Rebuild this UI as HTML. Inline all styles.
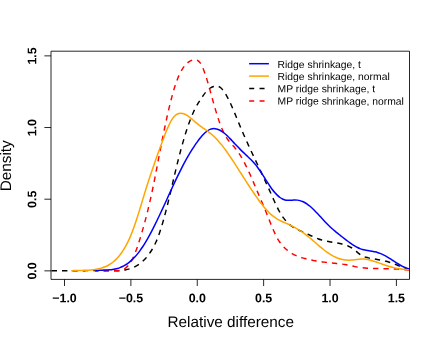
<!DOCTYPE html>
<html><head><meta charset="utf-8"><title>Density plot</title>
<style>html,body{margin:0;padding:0;background:#fff;}body{width:436px;height:343px;position:relative;overflow:hidden;font-family:"Liberation Sans",sans-serif;}</style>
</head><body>
<svg width="436" height="343" viewBox="0 0 436 343" text-rendering="geometricPrecision" style="will-change:transform;position:absolute;left:0;top:0;font-family:'Liberation Sans',sans-serif">
<rect x="0" y="0" width="436" height="343" fill="#fff"/>
<clipPath id="c"><rect x="51.00" y="51.20" width="358.50" height="228.20"/></clipPath>
<g clip-path="url(#c)" fill="none" stroke-linejoin="round">
<path d="M51.00 270.66C51.42 270.66 52.67 270.68 53.50 270.69C54.33 270.70 55.17 270.71 56.00 270.71C56.83 270.72 57.67 270.73 58.50 270.73C59.33 270.74 60.17 270.74 61.00 270.74C61.83 270.74 62.67 270.74 63.50 270.74C64.33 270.74 65.17 270.74 66.00 270.74C66.83 270.74 67.67 270.74 68.50 270.74C69.33 270.73 70.17 270.73 71.00 270.73C71.83 270.72 72.67 270.72 73.50 270.72C74.33 270.71 75.17 270.71 76.00 270.70C76.83 270.70 77.67 270.69 78.50 270.69C79.33 270.68 80.17 270.68 81.00 270.68C81.83 270.67 82.67 270.67 83.50 270.66C84.33 270.66 85.17 270.66 86.00 270.65C86.83 270.65 87.67 270.65 88.50 270.64C89.33 270.64 90.17 270.64 91.00 270.64C91.83 270.64 92.67 270.64 93.50 270.64C94.33 270.64 95.17 270.65 96.00 270.65C96.83 270.65 97.67 270.66 98.50 270.66C99.33 270.67 100.17 270.67 101.00 270.68C101.83 270.69 102.67 270.70 103.50 270.71C104.33 270.72 105.17 270.73 106.00 270.75C106.83 270.76 107.67 270.79 108.50 270.79C109.33 270.80 110.17 270.80 111.00 270.80C111.83 270.80 112.67 270.80 113.50 270.80C114.33 270.80 115.17 270.82 116.00 270.80C116.83 270.78 117.67 270.75 118.50 270.71C119.33 270.66 120.17 270.59 121.00 270.51C121.83 270.42 122.67 270.32 123.50 270.19C124.33 270.07 125.17 269.92 126.00 269.74C126.83 269.57 127.67 269.37 128.50 269.14C129.33 268.90 130.17 268.65 131.00 268.35C131.83 268.05 132.67 267.73 133.50 267.36C134.33 266.99 135.17 266.59 136.00 266.13C136.83 265.68 137.67 265.18 138.50 264.62C139.33 264.06 140.17 263.46 141.00 262.78C141.83 262.11 142.67 261.38 143.50 260.57C144.33 259.77 145.17 258.90 146.00 257.94C146.83 256.99 147.67 255.97 148.50 254.85C149.33 253.74 150.17 252.56 151.00 251.25C151.83 249.95 152.67 248.57 153.50 247.02C154.33 245.47 155.17 243.82 156.00 241.95C156.83 240.08 157.67 238.06 158.50 235.81C159.33 233.56 160.17 231.08 161.00 228.44C161.83 225.80 162.67 222.94 163.50 219.98C164.33 217.02 165.17 213.88 166.00 210.67C166.83 207.45 167.67 204.10 168.50 200.70C169.33 197.29 170.17 193.77 171.00 190.24C171.83 186.71 172.67 183.05 173.50 179.50C174.33 175.94 175.17 172.36 176.00 168.91C176.83 165.47 177.67 162.09 178.50 158.81C179.33 155.54 180.17 152.35 181.00 149.27C181.83 146.20 182.67 143.21 183.50 140.35C184.33 137.48 185.17 134.72 186.00 132.09C186.83 129.46 187.67 126.95 188.50 124.57C189.33 122.19 190.17 119.93 191.00 117.83C191.83 115.72 192.67 113.74 193.50 111.93C194.33 110.11 195.17 108.46 196.00 106.92C196.83 105.38 197.67 104.03 198.50 102.68C199.33 101.34 200.17 100.10 201.00 98.85C201.83 97.59 202.67 96.32 203.50 95.14C204.33 93.97 205.17 92.79 206.00 91.82C206.83 90.84 207.67 89.98 208.50 89.28C209.33 88.58 210.17 88.09 211.00 87.63C211.83 87.18 212.67 86.83 213.50 86.56C214.33 86.29 215.17 86.06 216.00 86.03C216.83 86.01 217.67 86.08 218.50 86.42C219.33 86.75 220.17 87.30 221.00 88.04C221.83 88.78 222.67 89.75 223.50 90.85C224.33 91.96 225.17 93.26 226.00 94.66C226.83 96.07 227.67 97.65 228.50 99.30C229.33 100.95 230.17 102.73 231.00 104.57C231.83 106.40 232.67 108.34 233.50 110.29C234.33 112.24 235.17 114.27 236.00 116.28C236.83 118.30 237.67 120.35 238.50 122.37C239.33 124.38 240.17 126.39 241.00 128.36C241.83 130.33 242.67 132.26 243.50 134.17C244.33 136.08 245.17 137.96 246.00 139.82C246.83 141.68 247.67 143.51 248.50 145.33C249.33 147.15 250.17 148.95 251.00 150.74C251.83 152.53 252.67 154.30 253.50 156.07C254.33 157.84 255.17 159.59 256.00 161.35C256.83 163.11 257.67 164.86 258.50 166.62C259.33 168.38 260.17 170.13 261.00 171.90C261.83 173.66 262.67 175.43 263.50 177.22C264.33 179.00 265.17 180.79 266.00 182.60C266.83 184.41 267.67 186.24 268.50 188.09C269.33 189.93 270.17 191.82 271.00 193.69C271.83 195.57 272.67 197.49 273.50 199.34C274.33 201.19 275.17 203.04 276.00 204.79C276.83 206.53 277.67 208.23 278.50 209.79C279.33 211.36 280.17 212.81 281.00 214.16C281.83 215.50 282.67 216.73 283.50 217.87C284.33 219.01 285.17 220.04 286.00 220.99C286.83 221.94 287.67 222.80 288.50 223.59C289.33 224.37 290.17 225.07 291.00 225.71C291.83 226.36 292.67 226.92 293.50 227.44C294.33 227.97 295.17 228.42 296.00 228.86C296.83 229.29 297.67 229.68 298.50 230.06C299.33 230.44 300.17 230.78 301.00 231.14C301.83 231.49 302.67 231.83 303.50 232.19C304.33 232.55 305.17 232.92 306.00 233.31C306.83 233.70 307.67 234.11 308.50 234.52C309.33 234.93 310.17 235.35 311.00 235.76C311.83 236.16 312.67 236.57 313.50 236.95C314.33 237.33 315.17 237.70 316.00 238.03C316.83 238.37 317.67 238.67 318.50 238.96C319.33 239.25 320.17 239.51 321.00 239.76C321.83 240.01 322.67 240.23 323.50 240.45C324.33 240.66 325.17 240.86 326.00 241.04C326.83 241.23 327.67 241.40 328.50 241.56C329.33 241.73 330.17 241.88 331.00 242.03C331.83 242.18 332.67 242.32 333.50 242.46C334.33 242.60 335.17 242.73 336.00 242.87C336.83 243.02 337.67 243.15 338.50 243.31C339.33 243.46 340.17 243.62 341.00 243.81C341.83 243.99 342.67 244.19 343.50 244.43C344.33 244.66 345.17 244.92 346.00 245.21C346.83 245.51 347.67 245.84 348.50 246.22C349.33 246.60 350.17 247.02 351.00 247.50C351.83 247.98 352.67 248.51 353.50 249.10C354.33 249.70 355.17 250.38 356.00 251.07C356.83 251.76 357.67 252.56 358.50 253.24C359.33 253.92 360.17 254.62 361.00 255.16C361.83 255.70 362.67 256.10 363.50 256.46C364.33 256.81 365.17 257.05 366.00 257.29C366.83 257.53 367.67 257.73 368.50 257.91C369.33 258.10 370.17 258.26 371.00 258.41C371.83 258.57 372.67 258.70 373.50 258.84C374.33 258.98 375.17 259.11 376.00 259.26C376.83 259.40 377.67 259.55 378.50 259.70C379.33 259.86 380.17 260.01 381.00 260.18C381.83 260.35 382.67 260.53 383.50 260.72C384.33 260.91 385.17 261.11 386.00 261.32C386.83 261.53 387.67 261.75 388.50 261.99C389.33 262.23 390.17 262.48 391.00 262.75C391.83 263.02 392.67 263.31 393.50 263.61C394.33 263.92 395.17 264.25 396.00 264.58C396.83 264.92 397.67 265.29 398.50 265.64C399.33 265.99 400.17 266.35 401.00 266.69C401.83 267.02 402.67 267.36 403.50 267.65C404.33 267.94 405.17 268.22 406.00 268.44C406.83 268.66 407.92 268.86 408.50 268.97C409.08 269.08 409.33 269.07 409.50 269.09" stroke="#000" stroke-width="1.45" stroke-dasharray="5.4 4.99" stroke-linecap="butt" stroke-dashoffset="-0.6"/>
<path d="M100.00 270.70C100.42 270.72 101.67 270.79 102.50 270.79C103.33 270.78 104.17 270.73 105.00 270.69C105.83 270.65 106.67 270.57 107.50 270.52C108.33 270.47 109.17 270.41 110.00 270.38C110.83 270.36 111.67 270.36 112.50 270.38C113.33 270.41 114.17 270.49 115.00 270.54C115.83 270.58 116.67 270.65 117.50 270.65C118.33 270.64 119.17 270.63 120.00 270.49C120.83 270.36 121.67 270.18 122.50 269.85C123.33 269.52 124.17 269.10 125.00 268.51C125.83 267.93 126.67 267.22 127.50 266.33C128.33 265.44 129.17 264.40 130.00 263.16C130.83 261.91 131.67 260.50 132.50 258.86C133.33 257.22 134.17 255.36 135.00 253.31C135.83 251.26 136.67 248.97 137.50 246.55C138.33 244.14 139.17 241.52 140.00 238.82C140.83 236.12 141.67 233.27 142.50 230.35C143.33 227.44 144.17 224.44 145.00 221.32C145.83 218.21 146.67 215.00 147.50 211.65C148.33 208.29 149.17 204.82 150.00 201.18C150.83 197.53 151.67 193.73 152.50 189.76C153.33 185.79 154.17 181.59 155.00 177.36C155.83 173.13 156.67 168.71 157.50 164.36C158.33 160.01 159.17 155.57 160.00 151.26C160.83 146.95 161.67 142.65 162.50 138.49C163.33 134.32 164.17 130.22 165.00 126.27C165.83 122.31 166.67 118.45 167.50 114.76C168.33 111.06 169.17 107.49 170.00 104.11C170.83 100.74 171.67 97.51 172.50 94.51C173.33 91.50 174.17 88.67 175.00 86.09C175.83 83.51 176.67 81.15 177.50 79.02C178.33 76.89 179.17 75.01 180.00 73.31C180.83 71.60 181.67 70.13 182.50 68.80C183.33 67.48 184.17 66.36 185.00 65.36C185.83 64.37 186.67 63.55 187.50 62.84C188.33 62.13 189.17 61.56 190.00 61.09C190.83 60.63 191.67 60.29 192.50 60.05C193.33 59.81 194.17 59.63 195.00 59.67C195.83 59.70 196.67 59.78 197.50 60.27C198.33 60.75 199.17 61.43 200.00 62.57C200.83 63.71 201.67 65.27 202.50 67.10C203.33 68.93 204.17 71.17 205.00 73.55C205.83 75.93 206.67 78.64 207.50 81.40C208.33 84.16 209.17 87.15 210.00 90.12C210.83 93.09 211.67 96.20 212.50 99.20C213.33 102.20 214.17 105.26 215.00 108.12C215.83 110.98 216.67 113.77 217.50 116.36C218.33 118.95 219.17 121.39 220.00 123.65C220.83 125.90 221.67 128.00 222.50 129.91C223.33 131.82 224.17 133.56 225.00 135.11C225.83 136.65 226.67 137.98 227.50 139.19C228.33 140.41 229.17 141.39 230.00 142.38C230.83 143.37 231.67 144.21 232.50 145.14C233.33 146.07 234.17 146.94 235.00 147.94C235.83 148.95 236.67 150.03 237.50 151.19C238.33 152.36 239.17 153.61 240.00 154.93C240.83 156.26 241.67 157.67 242.50 159.15C243.33 160.62 244.17 162.18 245.00 163.80C245.83 165.42 246.67 167.11 247.50 168.86C248.33 170.61 249.17 172.44 250.00 174.30C250.83 176.17 251.67 178.10 252.50 180.04C253.33 181.98 254.17 183.97 255.00 185.94C255.83 187.91 256.67 189.90 257.50 191.86C258.33 193.82 259.17 195.75 260.00 197.70C260.83 199.64 261.67 201.57 262.50 203.53C263.33 205.49 264.17 207.45 265.00 209.47C265.83 211.48 266.67 213.55 267.50 215.62C268.33 217.69 269.17 219.82 270.00 221.88C270.83 223.95 271.67 226.03 272.50 227.99C273.33 229.95 274.17 231.89 275.00 233.65C275.83 235.41 276.67 237.08 277.50 238.55C278.33 240.03 279.17 241.33 280.00 242.51C280.83 243.70 281.67 244.71 282.50 245.66C283.33 246.61 284.17 247.43 285.00 248.22C285.83 249.01 286.67 249.72 287.50 250.39C288.33 251.05 289.17 251.66 290.00 252.22C290.83 252.79 291.67 253.30 292.50 253.77C293.33 254.25 294.17 254.68 295.00 255.08C295.83 255.48 296.67 255.83 297.50 256.17C298.33 256.50 299.17 256.80 300.00 257.09C300.83 257.37 301.67 257.63 302.50 257.87C303.33 258.12 304.17 258.34 305.00 258.56C305.83 258.78 306.67 258.99 307.50 259.19C308.33 259.39 309.17 259.58 310.00 259.76C310.83 259.94 311.67 260.11 312.50 260.28C313.33 260.45 314.17 260.60 315.00 260.76C315.83 260.91 316.67 261.05 317.50 261.19C318.33 261.32 319.17 261.45 320.00 261.58C320.83 261.70 321.67 261.82 322.50 261.93C323.33 262.05 324.17 262.15 325.00 262.26C325.83 262.36 326.67 262.46 327.50 262.55C328.33 262.64 329.17 262.73 330.00 262.82C330.83 262.90 331.67 262.98 332.50 263.06C333.33 263.14 334.17 263.22 335.00 263.30C335.83 263.38 336.67 263.46 337.50 263.55C338.33 263.64 339.17 263.72 340.00 263.82C340.83 263.92 341.67 264.02 342.50 264.14C343.33 264.25 344.17 264.37 345.00 264.51C345.83 264.64 346.67 264.79 347.50 264.95C348.33 265.11 349.17 265.29 350.00 265.47C350.83 265.66 351.67 265.86 352.50 266.05C353.33 266.24 354.17 266.43 355.00 266.61C355.83 266.79 356.67 266.96 357.50 267.11C358.33 267.26 359.17 267.40 360.00 267.51C360.83 267.63 361.67 267.73 362.50 267.81C363.33 267.90 364.17 267.97 365.00 268.03C365.83 268.10 366.67 268.15 367.50 268.20C368.33 268.24 369.17 268.28 370.00 268.31C370.83 268.35 371.67 268.38 372.50 268.41C373.33 268.44 374.17 268.46 375.00 268.48C375.83 268.51 376.67 268.53 377.50 268.55C378.33 268.57 379.17 268.58 380.00 268.60C380.83 268.62 381.67 268.63 382.50 268.65C383.33 268.66 384.17 268.68 385.00 268.70C385.83 268.72 386.67 268.73 387.50 268.75C388.33 268.77 389.17 268.79 390.00 268.82C390.83 268.84 391.67 268.87 392.50 268.90C393.33 268.93 394.17 268.96 395.00 269.00C395.83 269.03 396.67 269.08 397.50 269.12C398.33 269.17 399.17 269.22 400.00 269.27C400.83 269.33 401.67 269.39 402.50 269.46C403.33 269.53 404.17 269.60 405.00 269.69C405.83 269.77 406.75 269.87 407.50 269.95C408.25 270.04 409.17 270.16 409.50 270.20" stroke="#ff0000" stroke-width="1.45" stroke-dasharray="5.4 4.99" stroke-linecap="butt" stroke-dashoffset="-3.7"/>
<path d="M95.00 270.76C95.42 270.71 96.67 270.55 97.50 270.48C98.33 270.40 99.17 270.34 100.00 270.29C100.83 270.24 101.67 270.20 102.50 270.16C103.33 270.12 104.17 270.09 105.00 270.05C105.83 270.01 106.67 269.97 107.50 269.92C108.33 269.87 109.17 269.81 110.00 269.73C110.83 269.65 111.67 269.56 112.50 269.44C113.33 269.32 114.17 269.19 115.00 269.02C115.83 268.85 116.67 268.65 117.50 268.42C118.33 268.18 119.17 267.92 120.00 267.60C120.83 267.29 121.67 266.94 122.50 266.54C123.33 266.13 124.17 265.69 125.00 265.19C125.83 264.70 126.67 264.15 127.50 263.56C128.33 262.96 129.17 262.32 130.00 261.62C130.83 260.92 131.67 260.18 132.50 259.37C133.33 258.57 134.17 257.71 135.00 256.80C135.83 255.88 136.67 254.91 137.50 253.88C138.33 252.86 139.17 251.77 140.00 250.62C140.83 249.48 141.67 248.27 142.50 247.01C143.33 245.75 144.17 244.43 145.00 243.07C145.83 241.70 146.67 240.29 147.50 238.83C148.33 237.37 149.17 235.86 150.00 234.32C150.83 232.78 151.67 231.19 152.50 229.58C153.33 227.97 154.17 226.31 155.00 224.64C155.83 222.96 156.67 221.25 157.50 219.52C158.33 217.79 159.17 216.03 160.00 214.26C160.83 212.49 161.67 210.70 162.50 208.90C163.33 207.09 164.17 205.27 165.00 203.45C165.83 201.63 166.67 199.79 167.50 197.97C168.33 196.14 169.17 194.30 170.00 192.48C170.83 190.65 171.67 188.83 172.50 187.03C173.33 185.22 174.17 183.43 175.00 181.65C175.83 179.88 176.67 178.13 177.50 176.40C178.33 174.68 179.17 172.97 180.00 171.30C180.83 169.64 181.67 168.00 182.50 166.40C183.33 164.80 184.17 163.23 185.00 161.71C185.83 160.18 186.67 158.68 187.50 157.22C188.33 155.77 189.17 154.34 190.00 152.96C190.83 151.58 191.67 150.24 192.50 148.93C193.33 147.63 194.17 146.36 195.00 145.14C195.83 143.92 196.67 142.74 197.50 141.60C198.33 140.46 199.17 139.35 200.00 138.31C200.83 137.26 201.67 136.26 202.50 135.34C203.33 134.42 204.17 133.55 205.00 132.79C205.83 132.03 206.67 131.34 207.50 130.78C208.33 130.21 209.17 129.75 210.00 129.41C210.83 129.06 211.67 128.84 212.50 128.71C213.33 128.59 214.17 128.58 215.00 128.65C215.83 128.73 216.67 128.91 217.50 129.18C218.33 129.44 219.17 129.81 220.00 130.24C220.83 130.68 221.67 131.21 222.50 131.80C223.33 132.39 224.17 133.07 225.00 133.78C225.83 134.49 226.67 135.28 227.50 136.08C228.33 136.89 229.17 137.75 230.00 138.61C230.83 139.48 231.67 140.38 232.50 141.27C233.33 142.16 234.17 143.07 235.00 143.96C235.83 144.84 236.67 145.72 237.50 146.59C238.33 147.45 239.17 148.30 240.00 149.14C240.83 149.97 241.67 150.79 242.50 151.59C243.33 152.39 244.17 153.17 245.00 153.95C245.83 154.74 246.67 155.50 247.50 156.29C248.33 157.08 249.17 157.87 250.00 158.70C250.83 159.53 251.67 160.36 252.50 161.26C253.33 162.15 254.17 163.08 255.00 164.07C255.83 165.06 256.67 166.10 257.50 167.21C258.33 168.32 259.17 169.51 260.00 170.73C260.83 171.96 261.67 173.25 262.50 174.54C263.33 175.83 264.17 177.17 265.00 178.48C265.83 179.80 266.67 181.14 267.50 182.42C268.33 183.71 269.17 185.00 270.00 186.22C270.83 187.43 271.67 188.62 272.50 189.72C273.33 190.82 274.17 191.86 275.00 192.81C275.83 193.76 276.67 194.64 277.50 195.42C278.33 196.20 279.17 196.90 280.00 197.50C280.83 198.10 281.67 198.61 282.50 199.01C283.33 199.42 284.17 199.70 285.00 199.91C285.83 200.12 286.67 200.21 287.50 200.27C288.33 200.33 289.17 200.31 290.00 200.28C290.83 200.26 291.67 200.18 292.50 200.13C293.33 200.09 294.17 200.01 295.00 200.01C295.83 200.01 296.67 200.02 297.50 200.12C298.33 200.22 299.17 200.38 300.00 200.61C300.83 200.84 301.67 201.14 302.50 201.50C303.33 201.86 304.17 202.28 305.00 202.76C305.83 203.24 306.67 203.77 307.50 204.36C308.33 204.95 309.17 205.60 310.00 206.29C310.83 206.98 311.67 207.73 312.50 208.50C313.33 209.28 314.17 210.10 315.00 210.95C315.83 211.79 316.67 212.67 317.50 213.55C318.33 214.44 319.17 215.35 320.00 216.25C320.83 217.16 321.67 218.08 322.50 218.98C323.33 219.89 324.17 220.80 325.00 221.67C325.83 222.55 326.67 223.42 327.50 224.26C328.33 225.09 329.17 225.90 330.00 226.68C330.83 227.47 331.67 228.22 332.50 228.96C333.33 229.70 334.17 230.42 335.00 231.12C335.83 231.82 336.67 232.51 337.50 233.19C338.33 233.87 339.17 234.53 340.00 235.19C340.83 235.86 341.67 236.51 342.50 237.16C343.33 237.82 344.17 238.47 345.00 239.12C345.83 239.76 346.67 240.40 347.50 241.02C348.33 241.64 349.17 242.26 350.00 242.85C350.83 243.44 351.67 244.01 352.50 244.56C353.33 245.10 354.17 245.62 355.00 246.11C355.83 246.59 356.67 247.05 357.50 247.47C358.33 247.88 359.17 248.27 360.00 248.60C360.83 248.94 361.67 249.22 362.50 249.47C363.33 249.72 364.17 249.92 365.00 250.10C365.83 250.28 366.67 250.43 367.50 250.57C368.33 250.71 369.17 250.83 370.00 250.96C370.83 251.09 371.67 251.21 372.50 251.36C373.33 251.51 374.17 251.65 375.00 251.84C375.83 252.03 376.67 252.25 377.50 252.50C378.33 252.75 379.17 253.04 380.00 253.35C380.83 253.67 381.67 254.02 382.50 254.40C383.33 254.79 384.17 255.20 385.00 255.64C385.83 256.08 386.67 256.55 387.50 257.05C388.33 257.54 389.17 258.07 390.00 258.61C390.83 259.14 391.67 259.70 392.50 260.25C393.33 260.80 394.17 261.37 395.00 261.91C395.83 262.45 396.67 262.98 397.50 263.50C398.33 264.01 399.17 264.51 400.00 264.98C400.83 265.45 401.67 265.90 402.50 266.31C403.33 266.72 404.17 267.11 405.00 267.45C405.83 267.79 406.75 268.12 407.50 268.36C408.25 268.61 409.17 268.81 409.50 268.90" stroke="#0000ff" stroke-width="1.5"/>
<path d="M71.25 270.73C71.67 270.71 72.92 270.63 73.75 270.59C74.58 270.56 75.42 270.53 76.25 270.51C77.08 270.49 77.92 270.47 78.75 270.46C79.58 270.44 80.42 270.43 81.25 270.41C82.08 270.40 82.92 270.38 83.75 270.36C84.58 270.34 85.42 270.32 86.25 270.28C87.08 270.25 87.92 270.21 88.75 270.16C89.58 270.10 90.42 270.04 91.25 269.96C92.08 269.88 92.92 269.80 93.75 269.69C94.58 269.58 95.42 269.45 96.25 269.30C97.08 269.16 97.92 268.99 98.75 268.80C99.58 268.60 100.42 268.39 101.25 268.15C102.08 267.90 102.92 267.64 103.75 267.32C104.58 267.01 105.42 266.68 106.25 266.29C107.08 265.90 107.92 265.47 108.75 264.99C109.58 264.51 110.42 263.98 111.25 263.40C112.08 262.81 112.92 262.17 113.75 261.46C114.58 260.75 115.42 259.99 116.25 259.15C117.08 258.30 117.92 257.40 118.75 256.40C119.58 255.41 120.42 254.35 121.25 253.20C122.08 252.04 122.92 250.82 123.75 249.48C124.58 248.14 125.42 246.71 126.25 245.16C127.08 243.60 127.92 241.95 128.75 240.16C129.58 238.36 130.42 236.45 131.25 234.38C132.08 232.32 132.92 230.11 133.75 227.79C134.58 225.47 135.42 223.01 136.25 220.48C137.08 217.96 137.92 215.30 138.75 212.62C139.58 209.95 140.42 207.18 141.25 204.44C142.08 201.70 142.92 198.90 143.75 196.17C144.58 193.44 145.42 190.71 146.25 188.06C147.08 185.41 147.92 182.81 148.75 180.26C149.58 177.70 150.42 175.20 151.25 172.72C152.08 170.25 152.92 167.83 153.75 165.42C154.58 163.02 155.42 160.66 156.25 158.31C157.08 155.97 157.92 153.65 158.75 151.35C159.58 149.04 160.42 146.75 161.25 144.49C162.08 142.22 162.92 139.93 163.75 137.74C164.58 135.55 165.42 133.37 166.25 131.34C167.08 129.31 167.92 127.34 168.75 125.57C169.58 123.80 170.42 122.14 171.25 120.73C172.08 119.31 172.92 118.08 173.75 117.08C174.58 116.07 175.42 115.31 176.25 114.70C177.08 114.09 177.92 113.70 178.75 113.44C179.58 113.18 180.42 113.11 181.25 113.15C182.08 113.19 182.92 113.39 183.75 113.67C184.58 113.96 185.42 114.38 186.25 114.86C187.08 115.34 187.92 115.93 188.75 116.55C189.58 117.16 190.42 117.87 191.25 118.56C192.08 119.26 192.92 120.01 193.75 120.73C194.58 121.45 195.42 122.19 196.25 122.87C197.08 123.56 197.92 124.21 198.75 124.85C199.58 125.49 200.42 126.09 201.25 126.69C202.08 127.29 202.92 127.87 203.75 128.46C204.58 129.05 205.42 129.63 206.25 130.23C207.08 130.83 207.92 131.44 208.75 132.07C209.58 132.71 210.42 133.35 211.25 134.04C212.08 134.73 212.92 135.45 213.75 136.22C214.58 136.99 215.42 137.80 216.25 138.66C217.08 139.52 217.92 140.44 218.75 141.39C219.58 142.34 220.42 143.35 221.25 144.38C222.08 145.41 222.92 146.49 223.75 147.59C224.58 148.70 225.42 149.84 226.25 151.00C227.08 152.16 227.92 153.36 228.75 154.57C229.58 155.78 230.42 157.02 231.25 158.27C232.08 159.52 232.92 160.79 233.75 162.07C234.58 163.35 235.42 164.64 236.25 165.94C237.08 167.23 237.92 168.54 238.75 169.84C239.58 171.15 240.42 172.46 241.25 173.77C242.08 175.07 242.92 176.39 243.75 177.69C244.58 179.00 245.42 180.30 246.25 181.60C247.08 182.90 247.92 184.19 248.75 185.47C249.58 186.75 250.42 188.03 251.25 189.29C252.08 190.55 252.92 191.80 253.75 193.04C254.58 194.27 255.42 195.49 256.25 196.68C257.08 197.87 257.92 199.05 258.75 200.19C259.58 201.33 260.42 202.45 261.25 203.53C262.08 204.61 262.92 205.66 263.75 206.67C264.58 207.68 265.42 208.66 266.25 209.58C267.08 210.51 267.92 211.40 268.75 212.23C269.58 213.07 270.42 213.86 271.25 214.59C272.08 215.32 272.92 215.99 273.75 216.61C274.58 217.24 275.42 217.80 276.25 218.33C277.08 218.86 277.92 219.34 278.75 219.80C279.58 220.26 280.42 220.67 281.25 221.08C282.08 221.49 282.92 221.86 283.75 222.24C284.58 222.62 285.42 222.97 286.25 223.34C287.08 223.70 287.92 224.06 288.75 224.44C289.58 224.81 290.42 225.19 291.25 225.60C292.08 226.01 292.92 226.43 293.75 226.88C294.58 227.33 295.42 227.80 296.25 228.29C297.08 228.77 297.92 229.28 298.75 229.81C299.58 230.34 300.42 230.88 301.25 231.45C302.08 232.01 302.92 232.60 303.75 233.20C304.58 233.80 305.42 234.42 306.25 235.06C307.08 235.69 307.92 236.35 308.75 237.02C309.58 237.69 310.42 238.38 311.25 239.08C312.08 239.78 312.92 240.50 313.75 241.22C314.58 241.94 315.42 242.67 316.25 243.39C317.08 244.12 317.92 244.85 318.75 245.56C319.58 246.28 320.42 247.00 321.25 247.69C322.08 248.39 322.92 249.08 323.75 249.74C324.58 250.40 325.42 251.04 326.25 251.66C327.08 252.27 327.92 252.86 328.75 253.41C329.58 253.97 330.42 254.49 331.25 254.97C332.08 255.46 332.92 255.91 333.75 256.33C334.58 256.75 335.42 257.13 336.25 257.48C337.08 257.83 337.92 258.14 338.75 258.43C339.58 258.71 340.42 258.95 341.25 259.17C342.08 259.38 342.92 259.56 343.75 259.70C344.58 259.85 345.42 259.96 346.25 260.03C347.08 260.11 347.92 260.15 348.75 260.16C349.58 260.17 350.42 260.13 351.25 260.08C352.08 260.03 352.92 259.93 353.75 259.84C354.58 259.75 355.42 259.63 356.25 259.53C357.08 259.43 357.92 259.31 358.75 259.23C359.58 259.15 360.42 259.07 361.25 259.03C362.08 259.00 362.92 258.99 363.75 259.03C364.58 259.07 365.42 259.16 366.25 259.29C367.08 259.41 367.92 259.58 368.75 259.76C369.58 259.95 370.42 260.18 371.25 260.41C372.08 260.65 372.92 260.91 373.75 261.17C374.58 261.44 375.42 261.72 376.25 262.00C377.08 262.28 377.92 262.58 378.75 262.87C379.58 263.16 380.42 263.45 381.25 263.75C382.08 264.04 382.92 264.33 383.75 264.62C384.58 264.91 385.42 265.19 386.25 265.47C387.08 265.74 387.92 266.01 388.75 266.26C389.58 266.51 390.42 266.76 391.25 266.99C392.08 267.21 392.92 267.42 393.75 267.62C394.58 267.81 395.42 267.99 396.25 268.15C397.08 268.31 397.92 268.46 398.75 268.60C399.58 268.73 400.42 268.85 401.25 268.97C402.08 269.08 402.92 269.19 403.75 269.28C404.58 269.38 405.42 269.46 406.25 269.55C407.08 269.63 408.21 269.73 408.75 269.77C409.29 269.82 409.38 269.83 409.50 269.84" stroke="#ffa500" stroke-width="1.5"/>
</g>
<g stroke="#000" stroke-width="0.85" fill="none">
<path d="M51.00 51.20H409.50V279.40H51.00Z"/>
<path d="M64.50 279.40v6.6"/>
<path d="M130.88 279.40v6.6"/>
<path d="M197.26 279.40v6.6"/>
<path d="M263.64 279.40v6.6"/>
<path d="M330.02 279.40v6.6"/>
<path d="M396.40 279.40v6.6"/>
<path d="M51.00 270.85h-6.6"/>
<path d="M51.00 199.19h-6.6"/>
<path d="M51.00 127.52h-6.6"/>
<path d="M51.00 55.86h-6.6"/>
</g>
<g font-weight="bold" font-size="12.4" text-anchor="middle" fill="#000">
<text transform="translate(64.50 302.3) rotate(0.03)">−1.0</text>
<text transform="translate(130.88 302.3) rotate(0.03)">−0.5</text>
<text transform="translate(197.26 302.3) rotate(0.03)">0.0</text>
<text transform="translate(263.64 302.3) rotate(0.03)">0.5</text>
<text transform="translate(330.02 302.3) rotate(0.03)">1.0</text>
<text transform="translate(396.40 302.3) rotate(0.03)">1.5</text>
<text transform="translate(36.15 270.95) rotate(-89.97)">0.0</text>
<text transform="translate(36.15 199.28) rotate(-89.97)">0.5</text>
<text transform="translate(36.15 127.62) rotate(-89.97)">1.0</text>
<text transform="translate(36.15 55.96) rotate(-89.97)">1.5</text>
</g>
<text transform="translate(230.75 327) rotate(0.03)" font-size="15.3" text-anchor="middle">Relative difference</text>
<text transform="translate(11.1 165.8) rotate(-89.97)" font-size="15.3" text-anchor="middle">Density</text>
<g fill="none" stroke-width="1.5">
<path d="M249.1 63.70H268.9" stroke="#0000ff"/>
<path d="M249.1 76.10H268.9" stroke="#ffa500"/>
<path d="M249.2 88.50H268.9" stroke="#000" stroke-width="1.45" stroke-dasharray="5 5.35" stroke-linecap="butt"/>
<path d="M249.2 101.00H268.9" stroke="#ff0000" stroke-width="1.45" stroke-dasharray="5 5.35" stroke-linecap="butt"/>
</g>
<g font-size="10.35" fill="#000">
<text transform="translate(277.6 68.00) rotate(0.03)">Ridge shrinkage, t</text>
<text transform="translate(277.6 80.00) rotate(0.03)">Ridge shrinkage, normal</text>
<text transform="translate(277.6 92.15) rotate(0.03)">MP ridge shrinkage, t</text>
<text transform="translate(277.6 104.60) rotate(0.03)">MP ridge shrinkage, normal</text>
</g>
</svg>
</body></html>
